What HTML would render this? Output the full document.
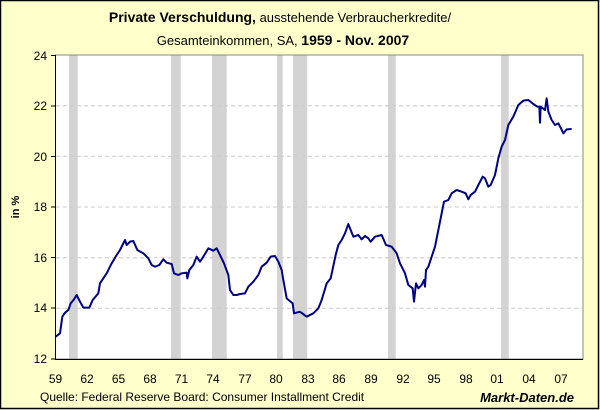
<!DOCTYPE html>
<html><head><meta charset="utf-8"><style>
body{margin:0;width:600px;height:410px;overflow:hidden;background:#FFFFCC}
svg{display:block;font-family:"Liberation Sans",sans-serif}
</style></head><body>
<svg width="600" height="410" xmlns="http://www.w3.org/2000/svg">
<rect x="0.5" y="0.5" width="598" height="408" fill="#FFFFCC" stroke="#000" stroke-width="1.5"/>
<text x="280" y="22" text-anchor="middle" font-size="13"><tspan font-weight="bold" font-size="14">Private Verschuldung,</tspan> ausstehende Verbraucherkredite/</text>
<text x="283" y="45" text-anchor="middle" font-size="13">Gesamteinkommen, SA, <tspan font-weight="bold" font-size="14">1959 -  Nov. 2007</tspan></text>
<rect x="55.5" y="55" width="527.5" height="304" fill="#fff" stroke="#888" stroke-width="1"/>
<g fill="#D3D3D3">
<rect x="69" y="55.5" width="8.7" height="303"/>
<rect x="171" y="55.5" width="9.7" height="303"/>
<rect x="212" y="55.5" width="14.7" height="303"/>
<rect x="277" y="55.5" width="5.7" height="303"/>
<rect x="293" y="55.5" width="14.3" height="303"/>
<rect x="388" y="55.5" width="7.7" height="303"/>
<rect x="501" y="55.5" width="7.7" height="303"/>
</g>
<g stroke="#ccc" stroke-dasharray="4,3" stroke-width="1">
<line x1="56" x2="582" y1="308.3" y2="308.3"/>
<line x1="56" x2="582" y1="257.7" y2="257.7"/>
<line x1="56" x2="582" y1="207" y2="207"/>
<line x1="56" x2="582" y1="156.3" y2="156.3"/>
<line x1="56" x2="582" y1="105.7" y2="105.7"/>
</g>
<g stroke="#000" stroke-width="1">
<line x1="55.5" y1="55" x2="55.5" y2="359"/>
<line x1="55" y1="359.5" x2="583" y2="359.5"/>
<line x1="51" y1="55.5" x2="55" y2="55.5"/><line x1="51" y1="106" x2="55" y2="106"/><line x1="51" y1="156.5" x2="55" y2="156.5"/><line x1="51" y1="207" x2="55" y2="207"/><line x1="51" y1="257.5" x2="55" y2="257.5"/><line x1="51" y1="308" x2="55" y2="308"/><line x1="51" y1="359" x2="55" y2="359"/>
</g>
<g font-size="12" text-anchor="end" fill="#000">
<text x="47" y="60">24</text><text x="47" y="110">22</text><text x="47" y="161">20</text><text x="47" y="211">18</text><text x="47" y="262">16</text><text x="47" y="312">14</text><text x="47" y="363">12</text>
</g>
<text transform="translate(19,207) rotate(-90)" font-size="11" font-weight="bold" text-anchor="middle">in %</text>
<g font-size="12" text-anchor="middle">
<text x="55.5" y="383">59</text><text x="87" y="383">62</text><text x="118.5" y="383">65</text><text x="150" y="383">68</text><text x="181.5" y="383">71</text><text x="213" y="383">74</text><text x="245" y="383">77</text><text x="276" y="383">80</text><text x="308" y="383">83</text><text x="339" y="383">86</text><text x="371" y="383">89</text><text x="403" y="383">92</text><text x="434" y="383">95</text><text x="466" y="383">98</text><text x="497" y="383">01</text><text x="529" y="383">04</text><text x="561" y="383">07</text>
</g>
<text x="40" y="401" font-size="12">Quelle: Federal Reserve Board: Consumer Installment Credit</text>
<text x="574" y="402" font-size="13" font-weight="bold" font-style="italic" text-anchor="end">Markt-Daten.de</text>
<g fill="none" stroke="#000080" stroke-width="2" stroke-linejoin="round">
<polyline vector-effect="non-scaling-stroke" transform="translate(0,40) scale(0.33333)" points="167,890 180,880 187,830 195,818 205,810 212,790 222,778 230,765 240,785 250,803 268,803 278,780 295,760 300,730 320,700 335,670 350,645 360,630 375,600 380,615 390,605 400,603 412,630 430,640 445,655 455,675 465,680 478,675 490,658 500,668 515,672 522,700 535,705 545,700 560,698 562,715 568,690 580,675 590,650 600,665 610,650 625,625 640,632 650,625 660,645 672,670 685,705 690,750 700,765 710,765 720,762 735,760 745,740 760,725 775,705 785,680 800,668 812,650 825,648 835,665 845,690 850,720 860,775 878,790 882,820 900,815"/>
<polyline vector-effect="non-scaling-stroke" transform="translate(300,40) scale(0.33333)" points="0,815 20,830 40,820 55,805 65,780 80,730 92,715 107,645 115,615 125,600 135,580 145,552 152,570 160,590 175,585 185,598 195,588 205,595 212,605 225,590 245,585 258,615 275,620 290,640 300,670 315,700 325,735 338,745 342,785 348,730 355,745 365,735 372,720 375,740 378,690 385,680 395,650 405,620 420,545 432,485 445,480 455,460 470,450 485,455 497,460 505,478 512,465 525,455 535,435 548,410 555,415 565,440 572,435 585,405 595,355 605,320 615,300 625,255 640,230 655,195 670,182 685,180 700,192 712,200 718,200 720,248 722,200 735,210 740,175 745,215 755,240 765,255 775,250 783,265 790,280 800,268 815,267"/>
</g>
</svg>
</body></html>
